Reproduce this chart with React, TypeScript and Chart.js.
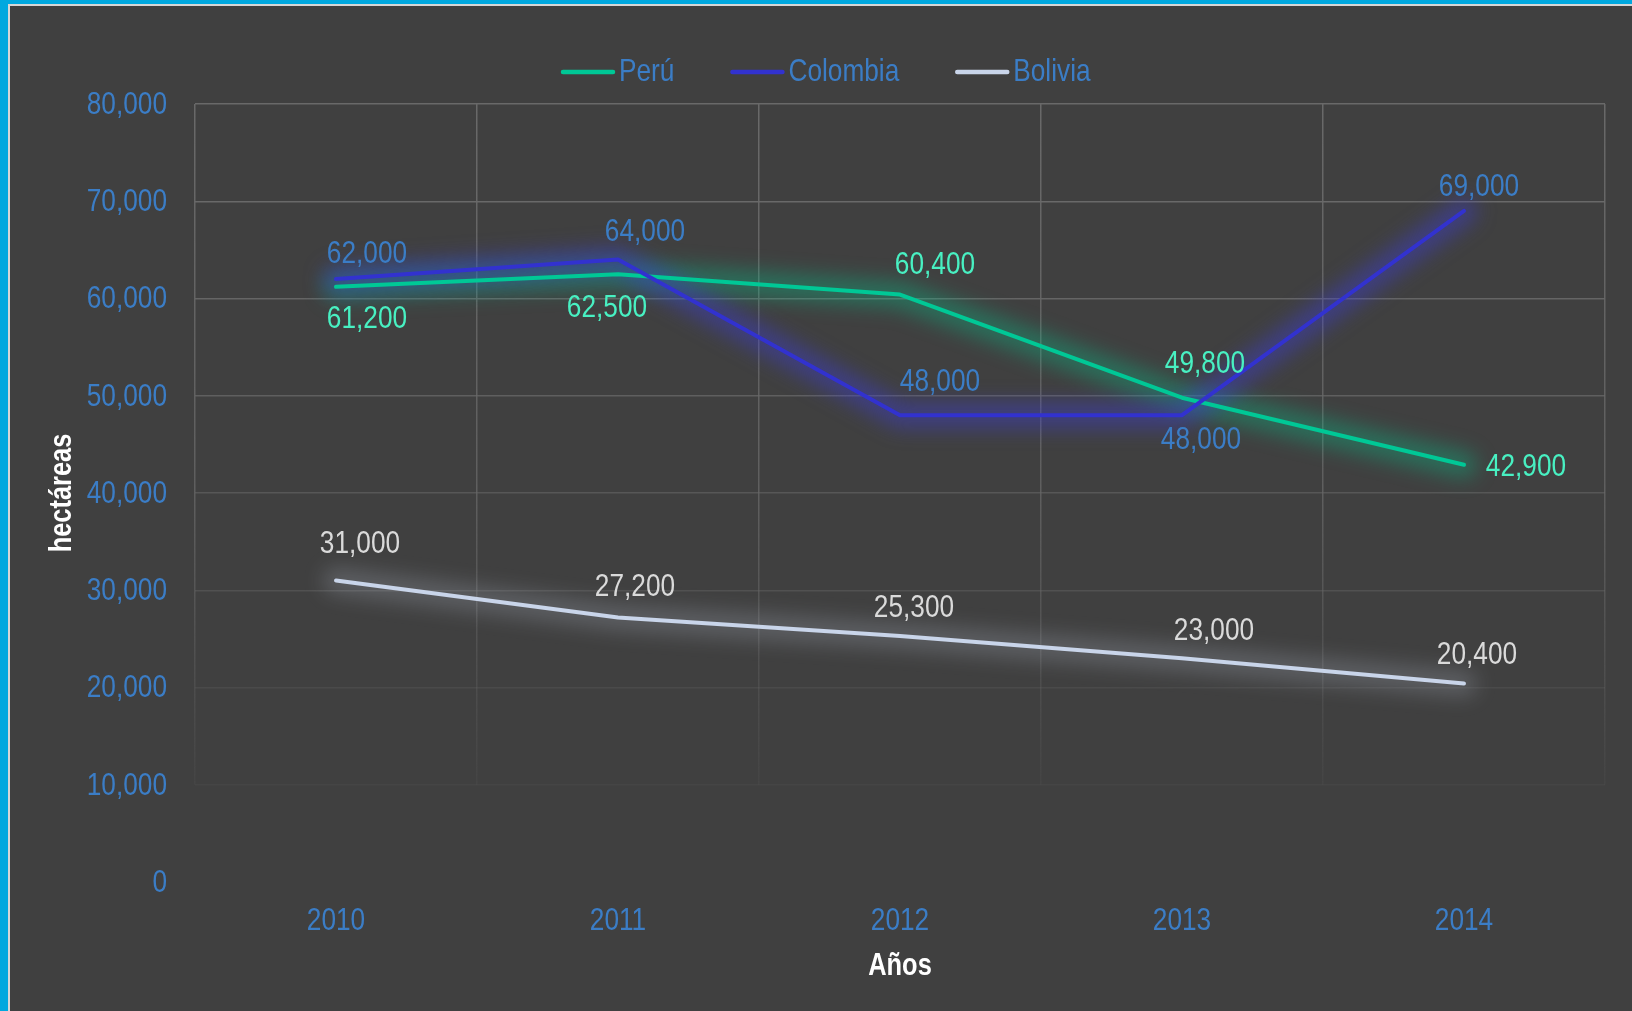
import React, { useEffect, useRef } from "react";
import { Chart, registerables } from "chart.js";

Chart.register(...registerables);

const years = ["2010", "2011", "2012", "2013", "2014"];
const peru = [61200, 62500, 60400, 49800, 42900];
const colombia = [62000, 64000, 48000, 48000, 69000];
const bolivia = [31000, 27200, 25300, 23000, 20400];
const yTicks = [0, 10000, 20000, 30000, 40000, 50000, 60000, 70000, 80000];
const xTitle = "Años";
const yTitle = "hectáreas";

// label placement (style only): [dx, dy] relative to the point
const peruLabelOffsets = [[31, 32], [-11, 34], [35, -29], [23, -34], [62, 2]];
const colombiaLabelOffsets = [[31, -25], [27, -27], [40, -33], [19, 25], [15, -24]];
const boliviaLabelOffsets = [[24, -36], [17, -30], [14, -28], [32, -27], [13, -28]];

const FONT = '"Liberation Sans", Arial, sans-serif';
const NARROW = 0.82; // emulate Arial Narrow
const TICK_COLOR = "#3B7DC6";
const FS = 32;

const fmt = (v: number) => v.toLocaleString("en-US");

function narrowText(
  ctx: CanvasRenderingContext2D,
  text: string,
  x: number,
  y: number,
  align: CanvasTextAlign,
  font: string,
  color: string,
  rotate = 0
) {
  ctx.save();
  ctx.translate(x, y);
  if (rotate) ctx.rotate(rotate);
  ctx.scale(NARROW, 1);
  ctx.font = font;
  ctx.fillStyle = color;
  ctx.textAlign = align;
  ctx.textBaseline = "middle";
  ctx.fillText(text, 0, 0);
  ctx.restore();
}

export default function App() {
  const ref = useRef<HTMLCanvasElement | null>(null);

  useEffect(() => {
    if (!ref.current) return;

    const glowPlugin = {
      id: "glow",
      beforeDatasetsDraw(chart: any) {
        const ctx = chart.ctx;
        const idx = chart.data.datasets.map((_: any, i: number) => i);
        idx.sort((a: number, b: number) => (chart.data.datasets[b].order || 0) - (chart.data.datasets[a].order || 0));
        idx.forEach((i: number) => {
          const ds = chart.data.datasets[i];
          const pts = chart.getDatasetMeta(i).data;
          if (!pts.length) return;
          ctx.save();
          ctx.filter = "blur(10px)";
          ctx.strokeStyle = ds.glowColor;
          ctx.lineWidth = 26;
          ctx.lineCap = "round";
          ctx.lineJoin = "round";
          ctx.beginPath();
          pts.forEach((p: any, k: number) => (k ? ctx.lineTo(p.x, p.y) : ctx.moveTo(p.x, p.y)));
          ctx.stroke();
          ctx.restore();
        });
      },
    };

    const textPlugin = {
      id: "narrowTexts",
      afterDatasetsDraw(chart: any) {
        const ctx = chart.ctx;
        const font = `${FS}px ${FONT}`;
        // data labels
        chart.data.datasets.forEach((ds: any, i: number) => {
          const meta = chart.getDatasetMeta(i);
          meta.data.forEach((pt: any, j: number) => {
            const off = ds.labelOffsets[j];
            narrowText(ctx, fmt(ds.data[j]), pt.x + off[0], pt.y + off[1], "center", font, ds.labelColor);
          });
        });
        // axis tick labels
        const xs = chart.scales.x;
        const ys = chart.scales.y;
        const area = chart.chartArea;
        xs.ticks.forEach((t: any, i: number) => {
          narrowText(ctx, String(chart.data.labels[i]), xs.getPixelForTick(i), area.bottom + 39, "center", font, TICK_COLOR);
        });
        ys.ticks.forEach((t: any, i: number) => {
          narrowText(ctx, fmt(t.value), area.left - 28, ys.getPixelForTick(i) + 1, "right", font, TICK_COLOR);
        });
        // axis titles
        const tfont = `bold 31px ${FONT}`;
        narrowText(ctx, xTitle, (area.left + area.right) / 2, 966, "center", tfont, "#FFFFFF");
        narrowText(ctx, yTitle, 62, (area.top + area.bottom) / 2, "center", tfont, "#FFFFFF", -Math.PI / 2);
        // legend
        let x = 561;
        const y = 72;
        chart.data.datasets.forEach((ds: any) => {
          ctx.save();
          ctx.strokeStyle = ds.borderColor;
          ctx.lineWidth = 4.5;
          ctx.lineCap = "round";
          ctx.beginPath();
          ctx.moveTo(x + 2, y);
          ctx.lineTo(x + 52, y);
          ctx.stroke();
          ctx.font = font;
          const w = ctx.measureText(ds.label).width * NARROW;
          ctx.restore();
          narrowText(ctx, ds.label, x + 58, y, "left", font, TICK_COLOR);
          x += 58 + w + 56;
        });
      },
    };

    const gridGradient = (chart: any) => {
      const area = chart.chartArea;
      if (!area) return "rgba(100,100,100,0.9)";
      const g = chart.ctx.createLinearGradient(0, area.top, 0, area.bottom);
      g.addColorStop(0, "rgba(105,105,105,1)");
      g.addColorStop(0.5, "rgba(105,105,105,0.75)");
      g.addColorStop(0.874, "rgba(105,105,105,0.12)");
      g.addColorStop(0.876, "rgba(105,105,105,0)");
      g.addColorStop(1, "rgba(105,105,105,0)");
      return g;
    };

    const chart = new Chart(ref.current, {
      type: "line",
      data: {
        labels: years,
        datasets: [
          {
            label: "Perú",
            data: peru,
            order: 1,
            borderColor: "#00C896",
            glowColor: "rgba(0,200,140,0.36)",
            labelColor: "#48F0C2",
            labelOffsets: peruLabelOffsets,
          } as any,
          {
            label: "Colombia",
            data: colombia,
            order: 0,
            borderColor: "#3232CF",
            glowColor: "rgba(60,60,215,0.45)",
            labelColor: TICK_COLOR,
            labelOffsets: colombiaLabelOffsets,
          } as any,
          {
            label: "Bolivia",
            data: bolivia,
            order: 2,
            borderColor: "#C9D5EA",
            glowColor: "rgba(210,220,240,0.2)",
            labelColor: "#DADADA",
            labelOffsets: boliviaLabelOffsets,
          } as any,
        ],
      },
      options: {
        responsive: false,
        animation: false,
        devicePixelRatio: 1,
        layout: { padding: { top: 104, right: 27, left: 0, bottom: 0 } },
        elements: {
          line: { borderWidth: 4, tension: 0, borderCapStyle: "round", borderJoinStyle: "round" },
          point: { radius: 0, hoverRadius: 0 },
        },
        plugins: {
          legend: { display: false },
          tooltip: { enabled: false },
        },
        scales: {
          x: {
            offset: true,
            grid: {
              offset: true,
              drawTicks: false,
              lineWidth: 1.5,
              color: (c: any) => gridGradient(c.chart),
            },
            border: { display: false },
            ticks: {
              padding: 19,
              color: "rgba(0,0,0,0)",
              font: { family: FONT, size: FS, lineHeight: 1.2 },
            },
            title: { display: false },
            afterFit: (s: any) => {
              s.height = 129;
            },
          },
          y: {
            min: 0,
            max: 80000,
            afterBuildTicks: (s: any) => {
              s.ticks = yTicks.map((v) => ({ value: v }));
            },
            grid: {
              drawTicks: false,
              lineWidth: 1.5,
              color: (c: any) => {
                const v = c.tick ? c.tick.value : 0;
                if (v <= 0) return "rgba(0,0,0,0)";
                const a = Math.max(0.12, Math.min(1, (v - 5000) / 60000));
                return `rgba(105,105,105,${a})`;
              },
            },
            border: { display: false },
            ticks: {
              padding: 29,
              color: "rgba(0,0,0,0)",
              font: { family: FONT, size: FS, lineHeight: 1.2 },
            },
            title: { display: false },
            afterFit: (s: any) => {
              s.width = 195;
            },
          },
        },
      } as any,
      plugins: [glowPlugin, textPlugin],
    });

    return () => chart.destroy();
  }, []);

  return (
    <div
      style={{
        position: "absolute",
        left: 0,
        top: 0,
        width: 1632,
        height: 1011,
        background: "#00A8DF",
        overflow: "hidden",
      }}
    >
      <div
        style={{
          position: "absolute",
          left: 8,
          top: 4,
          right: 0,
          bottom: 0,
          background: "#404040",
          borderLeft: "2px solid #D6D6D6",
          borderTop: "2px solid #D6D6D6",
        }}
      />
      <canvas
        ref={ref}
        width={1632}
        height={1011}
        style={{ position: "absolute", left: 0, top: 0, width: 1632, height: 1011 }}
      />
    </div>
  );
}
